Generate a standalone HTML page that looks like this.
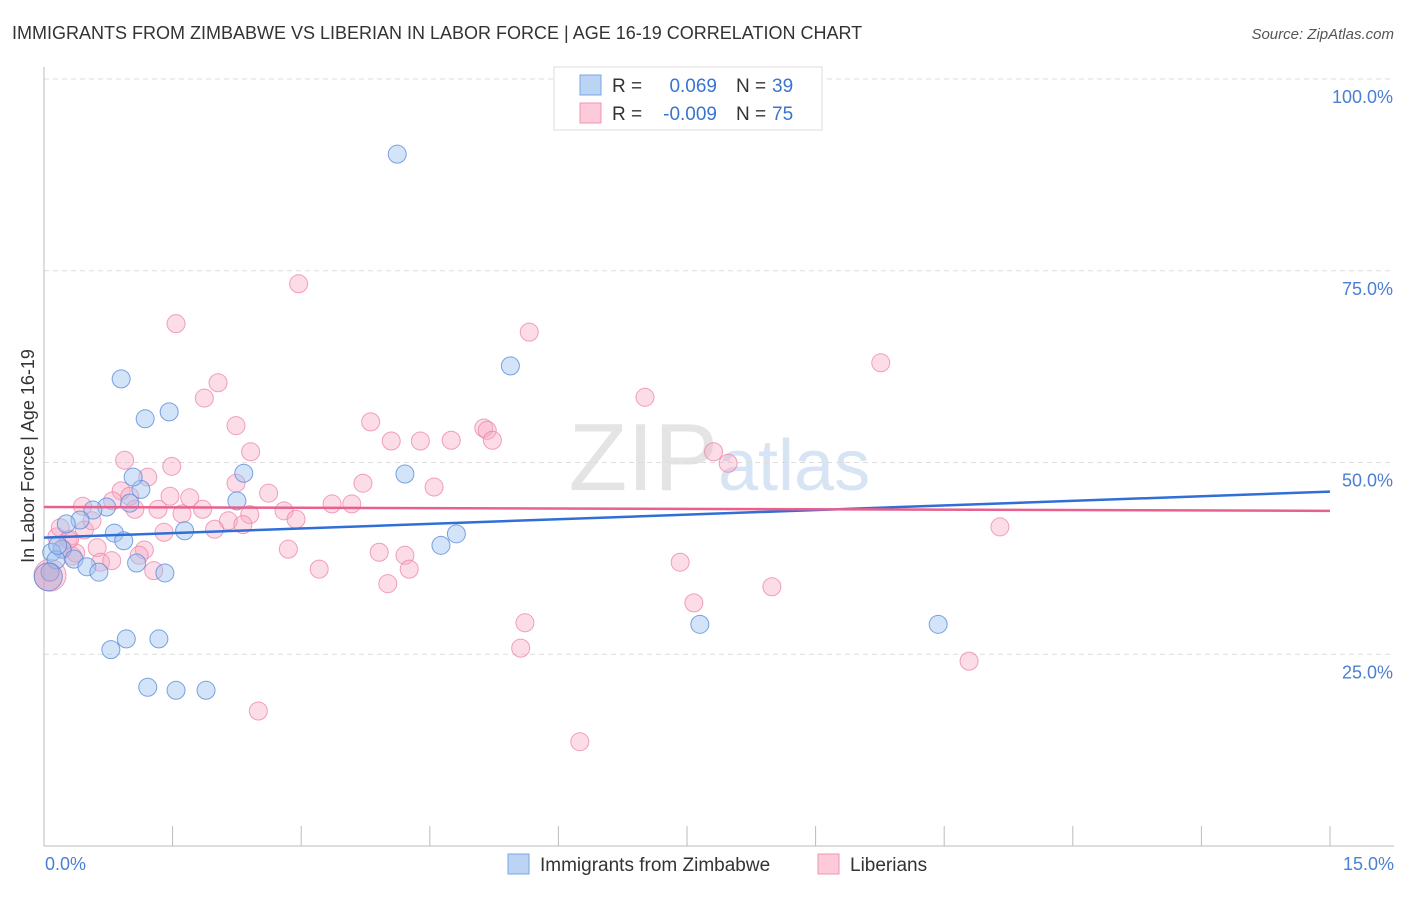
<!DOCTYPE html>
<html><head><meta charset="utf-8"><style>
body{margin:0;background:#fff;font-family:"Liberation Sans",sans-serif}
svg text{font-family:"Liberation Sans",sans-serif}
</style></head><body>
<svg id="chart" width="1406" height="892" xmlns="http://www.w3.org/2000/svg">
<text x="12" y="39" font-size="18" fill="#333">IMMIGRANTS FROM ZIMBABWE VS LIBERIAN IN LABOR FORCE | AGE 16-19 CORRELATION CHART</text>
<text x="1394" y="39" font-size="15" fill="#555" font-style="italic" text-anchor="end">Source: ZipAtlas.com</text>
<text x="718" y="490" font-size="96" fill="#e4e4e4" text-anchor="end" font-family="Liberation Serif">ZIP</text>
<text x="718" y="490" font-size="72" fill="#d6e4f4">atlas</text>
<g id="grid"></g>
<g id="axes"></g>
<g id="pts"></g>
<g id="trend"></g>
<text transform="translate(34,456) rotate(-90)" font-size="18" fill="#333" text-anchor="middle">In Labor Force | Age 16-19</text>
<text x="45" y="870" font-size="18" fill="#4a7fd4">0.0%</text>
<text x="1394" y="870" font-size="18" fill="#4a7fd4" text-anchor="end">15.0%</text>
<g>
<rect x="554" y="67" width="268" height="63" fill="#fff" stroke="#ddd"/>
<rect x="580" y="75" width="21" height="20" fill="#bcd4f4" stroke="#7aa6e6"/>
<rect x="580" y="103" width="21" height="20" fill="#fccad8" stroke="#f094b0"/>
<text x="612" y="92" font-size="19" fill="#333">R =</text>
<text x="717" y="92" font-size="19" fill="#3a74d0" text-anchor="end">0.069</text>
<text x="736" y="92" font-size="19" fill="#333">N =</text>
<text x="772" y="92" font-size="19" fill="#3a74d0">39</text>
<text x="612" y="120" font-size="19" fill="#333">R =</text>
<text x="717" y="120" font-size="19" fill="#3a74d0" text-anchor="end">-0.009</text>
<text x="736" y="120" font-size="19" fill="#333">N =</text>
<text x="772" y="120" font-size="19" fill="#3a74d0">75</text>
</g>
<g>
<rect x="508" y="854" width="21" height="20" fill="#bcd4f4" stroke="#7aa6e6"/>
<text x="540" y="871" font-size="19" fill="#333">Immigrants from Zimbabwe</text>
<rect x="818" y="854" width="21" height="20" fill="#fccad8" stroke="#f094b0"/>
<text x="850" y="871" font-size="19" fill="#333">Liberians</text>
</g>
</svg>
<script>
const yTicks=[25,50,75,100];
const yTickLabels=["25.0%","50.0%","75.0%","100.0%"];
const blueX=[4.12,5.44,0.90,1.46,1.18,2.33,4.21,1.13,1.04,2.25,1.00,0.73,0.57,0.42,0.26,1.64,0.82,0.93,4.81,4.63,0.21,0.09,0.14,0.35,0.50,0.64,1.08,1.41,0.07,0.96,1.34,0.78,7.65,10.43,1.21,1.54,1.89,0.05,0.16];
const blueY=[90.2,62.6,60.9,56.6,55.7,48.6,48.5,46.5,48.1,45.0,44.7,44.2,43.8,42.5,42.0,41.1,40.8,39.8,40.7,39.2,38.7,38.3,37.3,37.4,36.4,35.7,36.9,35.6,35.7,27.0,27.0,25.6,28.9,28.9,20.7,20.3,20.3,35.1,39.2];
const pinkX=[2.97,1.54,5.66,9.76,2.03,7.01,1.87,2.24,3.81,5.13,5.17,4.05,4.39,4.75,5.23,2.41,7.81,0.94,7.98,1.49,1.21,2.24,3.72,4.55,0.90,2.62,1.00,1.47,1.70,0.80,0.45,1.06,1.33,1.85,2.80,3.36,3.59,1.61,2.40,2.15,2.94,1.99,2.32,1.40,0.47,0.56,11.15,0.15,0.28,0.62,1.17,1.11,2.85,3.91,4.21,0.33,0.66,0.79,1.28,3.21,4.26,7.42,4.01,8.49,7.58,5.61,5.56,10.79,2.50,6.25,0.22,0.07,0.37,0.19,0.30];
const pinkY=[73.3,68.1,67.0,63.0,60.4,58.5,58.4,54.8,55.3,54.5,54.2,52.8,52.8,52.9,52.9,51.4,51.4,50.3,49.9,49.5,48.1,47.3,47.3,46.8,46.3,46.0,45.6,45.6,45.4,45.0,44.3,43.9,43.9,43.9,43.7,44.6,44.6,43.3,43.2,42.4,42.6,41.3,41.9,40.9,41.2,42.4,41.6,40.3,39.9,38.9,38.6,37.9,38.7,38.3,37.9,37.8,37.0,37.2,35.9,36.1,36.1,37.0,34.2,33.8,31.7,29.1,25.8,24.1,17.6,13.6,38.7,35.3,38.2,41.5,40.0];
const blueTrend=[40.2,46.2];
const pinkTrend=[44.2,43.7];
const xDomain=[0,15];
const NS="http://www.w3.org/2000/svg";
const sx=v=>44+(v-xDomain[0])/(xDomain[1]-xDomain[0])*1286;
const sy=v=>846-v/100*767;
function mk(tag,attrs,parent){const e=document.createElementNS(NS,tag);for(const k in attrs)e.setAttribute(k,attrs[k]);parent.appendChild(e);return e;}
const gridG=document.getElementById('grid'),axesG=document.getElementById('axes');
yTicks.forEach((t,i)=>{
  const l=mk('line',{x1:44,x2:1394,y1:sy(t),y2:sy(t),stroke:'#ddd','stroke-dasharray':'5,4'},gridG);
  
  
  const tx=mk('text',{x:1393,y:sy(t)+24,'font-size':18,fill:'#4a7fd4','text-anchor':'end'},axesG);
  tx.textContent=yTickLabels[i];
  
  
});
const topGrid=mk('line',{x1:44,x2:1394,y1:79,y2:79,stroke:'#ddd','stroke-dasharray':'5,4'},gridG);


const ya=mk('line',{x1:44,x2:44,y1:67,y2:846,stroke:'#bbb'},axesG);


const xa=mk('line',{x1:44,x2:1394,y1:846,y2:846,stroke:'#bbb'},axesG);


for(let i=0;i<=10;i++){
  const t=mk('line',{x1:sx(i*1.5),x2:sx(i*1.5),y1:826,y2:846,stroke:'#bbb'},axesG);
  
  
}
const ptsG=document.getElementById('pts');
pinkX.forEach((x,i)=>{
  const big=(i===71);
  const c=mk('circle',{cx:sx(x),cy:sy(pinkY[i]),r:big?16:9,fill:'rgba(248,170,195,0.4)',stroke:'rgba(236,130,165,0.75)','stroke-width':1},ptsG);
  
  
});
blueX.forEach((x,i)=>{
  const big=(i===37);
  const c=mk('circle',{cx:sx(x),cy:sy(blueY[i]),r:big?14:9,fill:big?'rgba(180,150,200,0.45)':'rgba(160,195,240,0.45)',stroke:'rgba(90,140,220,0.8)','stroke-width':1},ptsG);
  
  
});
const trG=document.getElementById('trend');
const bl=mk('line',{x1:sx(0),x2:sx(15),y1:sy(blueTrend[0]),y2:sy(blueTrend[1]),stroke:'#2f6fd6','stroke-width':2.5},trG);


const pl=mk('line',{x1:sx(0),x2:sx(15),y1:sy(pinkTrend[0]),y2:sy(pinkTrend[1]),stroke:'#e8608e','stroke-width':2.5},trG);


</script>
</body></html>
